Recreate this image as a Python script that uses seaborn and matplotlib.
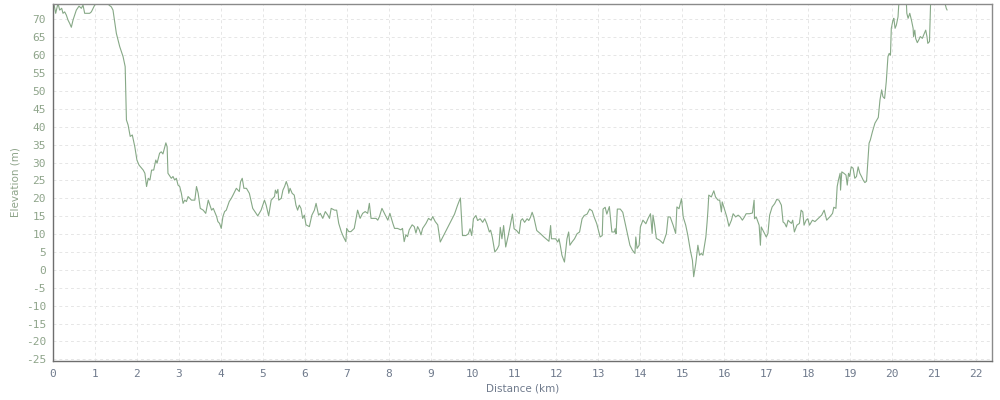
import numpy as np
import pandas as pd
import seaborn as sns
import matplotlib
matplotlib.use("Agg")
import matplotlib.pyplot as plt

# distance along the route (km) and elevation (m)
distance_km = [
    0.0, 0.02, 0.064, 0.119, 0.159, 0.207, 0.238, 0.278, 0.318, 0.358, 0.397, 0.437, 0.477, 0.556,
    0.62, 0.676, 0.715, 0.755, 0.835, 0.874, 0.914, 0.994, 1.11, 1.23, 1.335, 1.39, 1.43, 1.51,
    1.59, 1.67, 1.72, 1.75, 1.79, 1.84, 1.89, 1.95, 2.00, 2.05, 2.15, 2.19, 2.23, 2.27, 2.31,
    2.35, 2.40, 2.45, 2.48, 2.54, 2.58, 2.62, 2.69, 2.72, 2.74, 2.82, 2.86, 2.90, 2.94, 2.98,
    3.02, 3.06, 3.10, 3.14, 3.18, 3.22, 3.30, 3.38, 3.42, 3.46, 3.51, 3.58, 3.64, 3.70, 3.74,
    3.78, 3.82, 3.90, 3.93, 3.97, 4.01, 4.05, 4.09, 4.13, 4.20, 4.25, 4.29, 4.37, 4.44, 4.47,
    4.51, 4.55, 4.61, 4.68, 4.76, 4.84, 4.88, 4.96, 5.04, 5.08, 5.14, 5.20, 5.24, 5.28, 5.30,
    5.33, 5.36, 5.38, 5.44, 5.48, 5.52, 5.56, 5.60, 5.62, 5.65, 5.70, 5.75, 5.79, 5.83, 5.87,
    5.91, 5.95, 5.99, 6.03, 6.11, 6.17, 6.23, 6.27, 6.33, 6.37, 6.43, 6.49, 6.55, 6.59, 6.63,
    6.71, 6.76, 6.81, 6.87, 6.92, 6.98, 7.00, 7.05, 7.10, 7.18, 7.26, 7.32, 7.38, 7.44, 7.50,
    7.54, 7.58, 7.62, 7.70, 7.74, 7.78, 7.84, 7.90, 7.94, 7.98, 8.03, 8.10, 8.14, 8.21, 8.29,
    8.33, 8.37, 8.41, 8.45, 8.49, 8.56, 8.61, 8.65, 8.69, 8.73, 8.77, 8.81, 8.89, 8.95, 9.01,
    9.05, 9.11, 9.17, 9.23, 9.33, 9.45, 9.57, 9.64, 9.71, 9.76, 9.84, 9.90, 9.94, 9.98, 10.02,
    10.08, 10.12, 10.18, 10.24, 10.29, 10.34, 10.40, 10.43, 10.47, 10.53, 10.59, 10.63, 10.66,
    10.70, 10.74, 10.79, 10.85, 10.89, 10.95, 10.99, 11.05, 11.11, 11.15, 11.19, 11.24, 11.30,
    11.34, 11.38, 11.42, 11.46, 11.53, 11.62, 11.70, 11.82, 11.86, 11.88, 11.98, 12.03, 12.06,
    12.09, 12.13, 12.19, 12.25, 12.29, 12.32, 12.37, 12.43, 12.49, 12.55, 12.61, 12.66, 12.73,
    12.79, 12.85, 12.90, 12.96, 13.04, 13.09, 13.11, 13.16, 13.20, 13.26, 13.32, 13.38, 13.40,
    13.42, 13.45, 13.52, 13.58, 13.64, 13.75, 13.81, 13.87, 13.89, 13.92, 13.97, 14.00, 14.06,
    14.13, 14.18, 14.24, 14.28, 14.30, 14.34, 14.38, 14.46, 14.54, 14.62, 14.66, 14.71, 14.78,
    14.84, 14.87, 14.92, 14.98, 15.02, 15.08, 15.13, 15.19, 15.24, 15.27, 15.32, 15.37, 15.41,
    15.45, 15.49, 15.56, 15.59, 15.61, 15.63, 15.69, 15.75, 15.79, 15.85, 15.89, 15.93, 15.95,
    16.01, 16.06, 16.11, 16.17, 16.21, 16.27, 16.33, 16.38, 16.43, 16.48, 16.52, 16.60, 16.67,
    16.71, 16.72, 16.76, 16.83, 16.86, 16.88, 16.94, 17.00, 17.04, 17.08, 17.14, 17.20, 17.25,
    17.30, 17.36, 17.40, 17.44, 17.48, 17.52, 17.56, 17.60, 17.63, 17.67, 17.73, 17.79, 17.83,
    17.87, 17.90, 17.95, 17.99, 18.03, 18.10, 18.16, 18.24, 18.32, 18.38, 18.44, 18.52, 18.58,
    18.61, 18.66, 18.69, 18.72, 18.76, 18.77, 18.80, 18.85, 18.90, 18.93, 18.96, 18.99, 19.01,
    19.03, 19.07, 19.11, 19.15, 19.19, 19.23, 19.27, 19.31, 19.35, 19.39, 19.43, 19.45, 19.48,
    19.53, 19.59, 19.67, 19.71, 19.75, 19.78, 19.82, 19.86, 19.90, 19.93, 19.96, 19.98, 20.02,
    20.04, 20.07, 20.10, 20.14, 20.16, 20.26, 20.34, 20.35, 20.38, 20.42, 20.46, 20.50, 20.51,
    20.54, 20.56, 20.60, 20.64, 20.67, 20.72, 20.75, 20.80, 20.83, 20.85, 20.89, 20.92, 20.97,
    21.00, 21.10, 21.20, 21.27, 21.29, 21.31,
]
elevation_m = [
    75.0, 74.5, 71.7, 74.5, 72.6, 73.1, 71.7, 72.1, 71.2, 69.8, 68.9, 67.8, 69.8, 72.6,
    73.7, 73.1, 74.0, 71.7, 71.7, 71.7, 72.1, 74.0, 76.0, 76.5, 74.0, 73.5, 72.6, 66.1,
    62.4, 59.6, 56.8, 41.9, 40.5, 37.3, 37.7, 34.4, 30.7, 29.3, 27.9, 27.0, 23.3, 25.6, 25.1,
    27.9, 27.9, 30.7, 29.8, 32.6, 33.0, 32.4, 35.5, 34.4, 27.0, 25.6, 26.1, 25.1, 25.6, 23.7,
    23.3, 21.4, 18.6, 19.5, 19.1, 20.5, 19.5, 19.5, 23.3, 21.4, 17.2, 16.7, 15.8, 19.5, 18.1,
    16.7, 17.2, 14.9, 13.5, 13.0, 11.6, 14.9, 16.3, 16.7, 19.1, 20.0, 20.9, 22.8, 21.9, 24.6,
    25.6, 22.8, 22.8, 21.4, 17.2, 15.8, 15.1, 16.7, 19.5, 18.1, 15.1, 19.5, 20.0, 20.5, 22.3,
    21.4, 22.5, 19.5, 20.0, 22.3, 23.3, 24.7, 23.3, 21.4, 22.8, 21.4, 20.9, 18.1, 16.7, 18.1,
    17.2, 14.4, 15.3, 12.6, 12.1, 15.3, 16.7, 18.6, 15.3, 15.8, 14.4, 16.3, 15.3, 14.4, 17.2,
    16.7, 16.7, 13.0, 10.7, 9.3, 7.9, 11.6, 10.7, 10.7, 11.6, 16.7, 14.4, 15.8, 16.3, 15.8,
    18.6, 14.4, 14.4, 14.4, 13.9, 14.9, 17.2, 15.8, 14.9, 13.9, 15.8, 13.0, 11.6, 11.6, 11.2,
    11.6, 7.9, 9.8, 9.3, 11.2, 12.6, 12.1, 10.3, 12.1, 11.2, 9.8, 11.6, 13.0, 14.4, 13.9,
    14.9, 13.5, 12.6, 7.8, 10.1, 12.9, 15.6, 18.0, 20.1, 9.6, 9.6, 10.1, 11.5, 9.6, 14.3,
    15.2, 13.8, 14.3, 13.3, 14.3, 12.9, 10.6, 11.1, 9.2, 5.0, 5.9, 6.9, 11.9,
    8.7, 12.4, 6.4, 9.6, 11.9, 15.6, 11.5, 11.0, 10.1, 13.8, 14.3, 13.3, 14.3,
    13.8, 14.7, 16.1, 14.7, 11.0, 10.1, 9.2, 8.0, 12.4, 8.7, 8.7, 7.8, 8.7,
    6.9, 4.1, 2.2, 8.7, 10.6, 6.9, 7.8, 8.7, 10.1, 10.6, 14.3, 15.2, 15.6,
    17.0, 16.5, 14.7, 12.9, 9.2, 9.6, 17.0, 17.5, 15.6, 17.7, 10.6, 10.6, 11.5,
    10.1, 17.0, 17.0, 16.1, 12.9, 6.9, 5.5, 4.6, 9.2, 6.0, 6.9, 12.0, 13.9,
    12.9, 14.3, 15.7, 10.2, 15.3, 12.5, 8.8, 8.3, 7.4, 10.2, 14.8, 14.8, 12.5,
    10.2, 17.6, 17.1, 19.9, 14.8, 12.5, 9.7, 5.5, 2.7, -1.9, 1.8, 6.9, 4.1,
    4.6, 4.1, 9.2, 13.4, 16.7, 20.9, 20.4, 22.1, 20.4, 19.5, 19.5, 16.2, 19.0,
    16.7, 14.8, 12.2, 13.9, 15.7, 14.8, 15.3, 14.8, 13.9, 14.8, 15.7, 15.7, 15.9,
    19.5, 14.3, 14.8, 12.5, 6.9, 12.0, 10.6, 9.2, 10.2, 15.3, 17.6, 18.5, 19.7,
    19.5, 18.1, 13.4, 13.0, 12.0, 13.9, 13.4, 13.0, 13.9, 10.6, 12.5, 13.0, 16.7,
    16.2, 12.5, 13.9, 14.3, 12.5, 13.9, 13.5, 14.4, 15.3, 16.7, 13.9, 14.9, 15.8,
    17.5, 17.2, 23.3, 25.1, 27.0, 22.3, 27.4, 27.0, 26.5, 23.7, 27.0, 26.1, 27.9,
    28.8, 28.4, 25.6, 26.1, 28.8, 27.0, 26.1, 25.1, 24.4, 24.8, 31.6, 35.4, 36.3,
    38.6, 41.0, 42.6, 47.5, 50.3, 48.4, 47.9, 52.6, 59.6, 60.5, 60.0, 67.5, 69.8,
    70.3, 67.5, 68.4, 70.7, 74.5, 77.0, 74.5, 71.7, 70.3, 71.7, 69.8, 67.5, 65.2,
    67.0, 64.7, 63.5, 64.4, 65.2, 64.7, 65.6, 67.0, 65.2, 63.3, 63.8, 76.0, 74.5,
    74.3, 76.0, 75.5, 74.0, 73.1, 72.6,
]

x_ticks = list(range(0, 23))
y_ticks = list(range(-25, 75, 5))

df = pd.DataFrame({"Distance (km)": distance_km, "Elevation (m)": elevation_m})

sns.set_style("white")
plt.rcParams["axes.unicode_minus"] = False

fig = plt.figure(figsize=(10, 4), dpi=100)
ax = fig.add_axes([0.053, 0.0975, 0.939, 0.8925])

sns.lineplot(data=df, x="Distance (km)", y="Elevation (m)", ax=ax,
             color="#86a886", linewidth=0.8, sort=False, estimator=None)

ax.set_xlim(0, 22.38)
ax.set_ylim(-25.45, 74.3)
ax.set_xticks(x_ticks)
ax.set_yticks(y_ticks)
ax.grid(True, color="#e6e6e6", linestyle=(0, (3, 3)), linewidth=0.7)
ax.set_axisbelow(True)

for side in ["left", "bottom"]:
    ax.spines[side].set_color("#6e6e6e")
    ax.spines[side].set_linewidth(1.0)
for side in ["top", "right"]:
    ax.spines[side].set_color("#8a8a8a")
    ax.spines[side].set_linewidth(1.0)

ax.tick_params(axis="y", direction="out", length=3, width=0.8, color="#6e6e6e",
               labelsize=8, labelcolor="#8ea48a", pad=2)
ax.tick_params(axis="x", direction="out", length=3, width=0.8, color="#6e6e6e",
               labelsize=8, labelcolor="#6f7a8c", pad=3)
for lbl in ax.get_xticklabels() + ax.get_yticklabels():
    lbl.set_family("DejaVu Sans Mono")

ax.set_xlabel("Distance (km)", fontsize=7.5, color="#6f7a8c", labelpad=3)
ax.set_ylabel("Elevation (m)", fontsize=7.5, color="#8ea48a", labelpad=4)

fig.savefig("out.png", dpi=100)
